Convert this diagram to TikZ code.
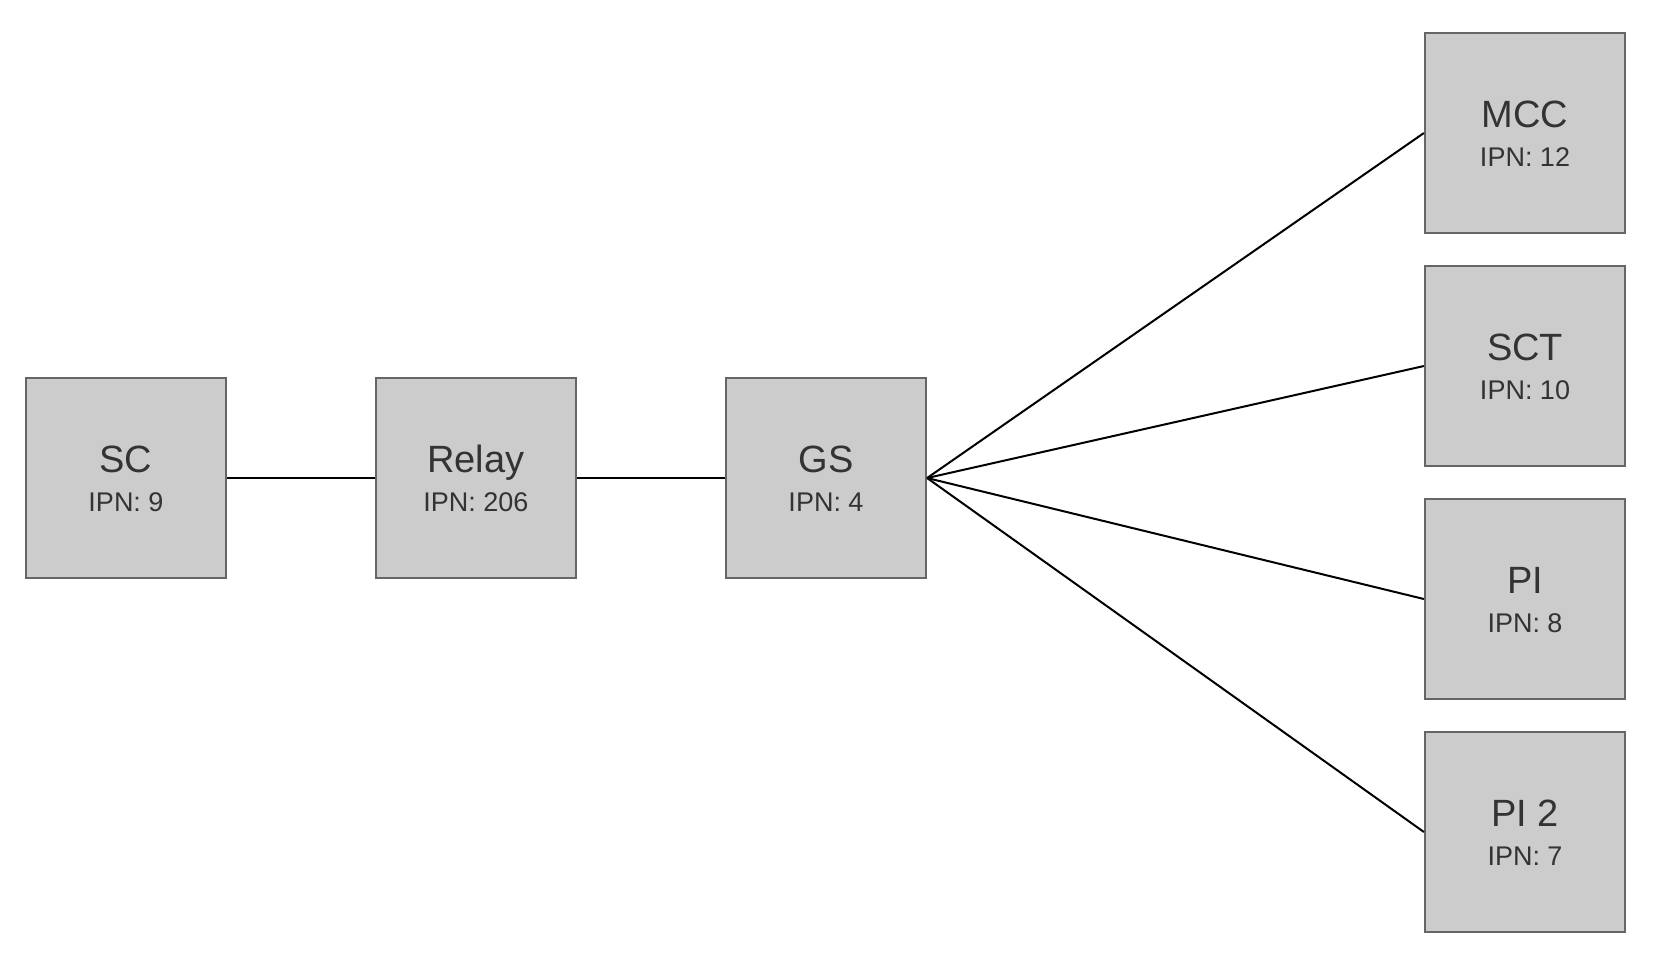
\documentclass[tikz,border=0pt]{standalone}
\usepackage{fontspec}
\setmainfont{Liberation Sans}
\definecolor{boxfill}{HTML}{CCCCCC}
\definecolor{boxline}{HTML}{666666}
\definecolor{boxtext}{HTML}{333333}
\newcommand{\ipnlabel}[2]{%
  \raisebox{3pt}[0pt][0pt]{\makebox[0pt]{#1}}%
  \raisebox{-16.85pt}[0pt][0pt]{\makebox[0pt]{\fontsize{13.5}{15}\selectfont IPN: #2}}}

\begin{document}
\begin{tikzpicture}[
  x=0.5pt, y=-0.5pt,
  unit/.style={
    draw=boxline,
    fill=boxfill,
    line width=1.1pt,
    minimum size=100pt,
    inner sep=0pt,
    text=boxtext,
    font=\fontsize{19}{21}\selectfont
  },
  link/.style={line width=1pt, black}
]
  \useasboundingbox (0,0) rectangle (1655,955);
  \node[unit] (sc) at (126,478) {\ipnlabel{SC}{9}};
  \node[unit] (relay) at (476,478) {\ipnlabel{Relay}{206}};
  \node[unit] (gs) at (826,478) {\ipnlabel{GS}{4}};
  \node[unit] (mcc) at (1525,133) {\ipnlabel{MCC}{12}};
  \node[unit] (sct) at (1525,366) {\ipnlabel{SCT}{10}};
  \node[unit] (pi) at (1525,599) {\ipnlabel{PI}{8}};
  \node[unit] (pitwo) at (1525,832) {\ipnlabel{PI 2}{7}};
  \draw[link] (sc) -- (relay);
  \draw[link] (relay) -- (gs);
  \foreach \n in {mcc,sct,pi,pitwo}
    \draw[link] (gs.east) -- (\n.west);
\end{tikzpicture}
\end{document}
